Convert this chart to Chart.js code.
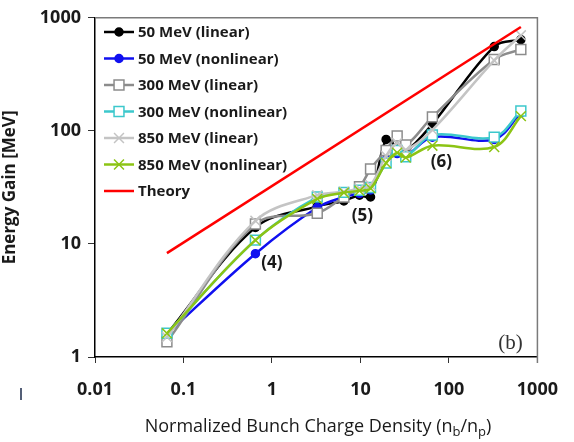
<!DOCTYPE html>
<html>
<head>
<meta charset="utf-8">
<script src="https://cdn.jsdelivr.net/npm/chart.js@4.4.1/dist/chart.umd.min.js"></script>
<style>
  html, body { margin: 0; padding: 0; background: #fff; }
  #wrap { width: 574px; height: 442px; position: relative; }
</style>
</head>
<body>
<div id="wrap"><canvas id="gainChart" width="574" height="442"></canvas></div>
<script>
// normalized bunch charge density n_b/n_p
const densities = [0.065, 0.65, 3.25, 6.5, 9.75, 13, 19.5, 26, 32.5, 65, 325, 650];

// energy gain [MeV] per run
const gain50Linear = [1.6, 14, 21.5, 24, 27, 26, 84, 72, 66, 115, 557, 641];
const gain50Nonlinear = [1.6, 8.2, 21, 26, 28, 30, 55, 63, 60, 88, 84, 145];
const gain300Linear = [1.36, 15, 18.7, 26, 32, 46, 67, 90, 75, 133, 428, 525];
const gain300Nonlinear = [1.62, 10.8, 26, 28.6, 29.8, 31.6, 52, 67, 59, 92, 88, 150];
const gain850Linear = [1.5, 16, 27, 29, 31, 33, 60, 78, 68, 102, 420, 700];
const gain850Nonlinear = [1.62, 10.8, 25, 28.4, 29.5, 31, 52, 64, 58, 74, 72, 135];

const theoryDensity = [0.065, 650];
const theoryGain = [8.3, 830];

const xTicks = [0.01, 0.1, 1, 10, 100, 1000];
const yTicks = [1, 10, 100, 1000];

// callouts: [text, density, gain]
const callouts = [
  ["(4)", 1.0, 6.8],
  ["(5)", 10.5, 17.6],
  ["(6)", 82, 52.5],
];

const FONT = "'Open Sans', Lato, sans-serif";

function pts(xs, ys) {
  return xs.map((x, i) => ({ x, y: ys[i] }));
}

// z: higher is drawn first (underneath)
const series = [
  { label: "50 MeV (linear)", data: gain50Linear, color: "#000000", style: "circle", radius: 4, fill: "#000000", z: 7 },
  { label: "50 MeV (nonlinear)", data: gain50Nonlinear, color: "#1010f0", style: "circle", radius: 4, fill: "#1010f0", z: 6 },
  { label: "300 MeV (linear)", data: gain300Linear, color: "#8c8c8c", style: "rect", radius: 7, fill: "#ffffff", z: 5 },
  { label: "300 MeV (nonlinear)", data: gain300Nonlinear, color: "#3cc8cc", style: "rect", radius: 7, fill: "#ffffff", z: 4 },
  { label: "850 MeV (linear)", data: gain850Linear, color: "#c4c4c4", style: "crossRot", radius: 7, fill: "#c4c4c4", z: 3 },
  { label: "850 MeV (nonlinear)", data: gain850Nonlinear, color: "#8cc414", style: "crossRot", radius: 7, fill: "#8cc414", z: 2 },
];

const datasets = series.map((s) => ({
  label: s.label,
  data: pts(densities, s.data),
  borderColor: s.color,
  backgroundColor: s.fill,
  pointStyle: s.style,
  pointRadius: s.radius,
  pointBorderColor: s.color,
  pointBackgroundColor: s.fill,
  pointBorderWidth: 1.5,
  borderWidth: 2.5,
  tension: 0.35,
  order: s.z,
}));

datasets.push({
  label: "Theory",
  data: pts(theoryDensity, theoryGain),
  borderColor: "#ff0000",
  backgroundColor: "#ff0000",
  pointRadius: 0,
  borderWidth: 2.5,
  tension: 0,
  order: 1,
});

// legend, frame, callouts and axis title drawn by hand
const decorations = {
  id: "decorations",
  afterDraw(chart) {
    const { ctx, chartArea: a, scales } = chart;
    ctx.save();

    // gray frame on top and right
    ctx.strokeStyle = "#7a7a7a";
    ctx.lineWidth = 1.5;
    ctx.beginPath();
    ctx.moveTo(a.left, a.top);
    ctx.lineTo(a.right, a.top);
    ctx.lineTo(a.right, a.bottom + 6);
    ctx.stroke();

    // legend inside the plot
    const rowY0 = 32, rowStep = 26.5;
    chart.data.datasets.forEach((ds, i) => {
      const y = rowY0 + i * rowStep;
      ctx.strokeStyle = ds.borderColor;
      ctx.lineWidth = 2.5;
      ctx.beginPath();
      ctx.moveTo(104, y);
      ctx.lineTo(134, y);
      ctx.stroke();
      if (ds.pointRadius) {
        ctx.fillStyle = ds.pointBackgroundColor;
        ctx.strokeStyle = ds.pointBorderColor;
        ctx.lineWidth = ds.pointBorderWidth;
        Chart.helpers.drawPoint(ctx, { pointStyle: ds.pointStyle, radius: ds.pointRadius, rotation: 0, borderWidth: ds.pointBorderWidth }, 119, y);
      }
      ctx.fillStyle = "#1a1a1a";
      ctx.font = `bold 15px ${FONT}`;
      ctx.textAlign = "left";
      ctx.textBaseline = "middle";
      ctx.fillText(ds.label, 138, y + 1);
    });

    // callouts
    ctx.fillStyle = "#1a1a1a";
    ctx.font = `bold 17px ${FONT}`;
    ctx.textAlign = "center";
    ctx.textBaseline = "middle";
    callouts.forEach(([text, dx, gy]) => {
      ctx.fillText(text, scales.x.getPixelForValue(dx), scales.y.getPixelForValue(gy));
    });

    // panel letter
    ctx.font = "21px 'Liberation Serif', 'DejaVu Serif', serif";
    ctx.fillStyle = "#333";
    ctx.fillText("(b)", a.right - 27, a.bottom - 14);

    // x axis title with subscripts
    const parts = [
      ["Normalized Bunch Charge Density (n", 0],
      ["b", 1],
      ["/n", 0],
      ["p", 1],
      [")", 0],
    ];
    const big = `18px ${FONT}`, small = `13px ${FONT}`;
    let total = 0;
    parts.forEach(([t, sub]) => { ctx.font = sub ? small : big; total += ctx.measureText(t).width; });
    let x = 318 - total / 2;
    const baseY = 432;
    ctx.textAlign = "left";
    ctx.textBaseline = "alphabetic";
    ctx.fillStyle = "#1a1a1a";
    parts.forEach(([t, sub]) => {
      ctx.font = sub ? small : big;
      ctx.fillText(t, x, sub ? baseY + 4 : baseY);
      x += ctx.measureText(t).width;
    });

    // stray mark left of the axis labels
    ctx.strokeStyle = "#1b2a4a";
    ctx.lineWidth = 1.5;
    ctx.beginPath();
    ctx.moveTo(21, 388);
    ctx.lineTo(21, 400);
    ctx.stroke();

    ctx.restore();
  },
};

new Chart(document.getElementById("gainChart"), {
  type: "line",
  data: { datasets },
  options: {
    responsive: false,
    animation: false,
    devicePixelRatio: 1,
    layout: { padding: { left: 0, right: 27, top: 15, bottom: 0 } },
    plugins: { legend: { display: false }, tooltip: { enabled: false } },
    scales: {
      x: {
        type: "logarithmic",
        min: 0.01,
        max: 1000,
        afterBuildTicks: (scale) => { scale.ticks = xTicks.map((v) => ({ value: v })); },
        afterFit: (scale) => { scale.height = 442 - 357; },
        ticks: {
          callback: (v) => String(v),
          color: "#1a1a1a",
          font: { family: FONT, size: 18, weight: "bold" },
          padding: 16,
          maxRotation: 0,
          autoSkip: false,
        },
        grid: { drawOnChartArea: false, tickLength: 6, color: "#333" },
        border: { color: "#000", width: 1.5 },
        title: { display: false },
      },
      y: {
        type: "logarithmic",
        min: 1,
        max: 1000,
        afterBuildTicks: (scale) => { scale.ticks = yTicks.map((v) => ({ value: v })); },
        afterFit: (scale) => { scale.width = 95; },
        ticks: {
          callback: (v) => String(v),
          color: "#1a1a1a",
          font: { family: FONT, size: 18, weight: "bold" },
          padding: 7,
          autoSkip: false,
        },
        grid: { drawOnChartArea: false, tickLength: 7, color: "#333" },
        border: { color: "#000", width: 1.5 },
        title: {
          display: true,
          text: "Energy Gain [MeV]",
          color: "#1a1a1a",
          font: { family: FONT, size: 17, weight: "bold" },
          padding: { top: 0, bottom: 4 },
        },
      },
    },
  },
  plugins: [decorations],
});
</script>
</body>
</html>
